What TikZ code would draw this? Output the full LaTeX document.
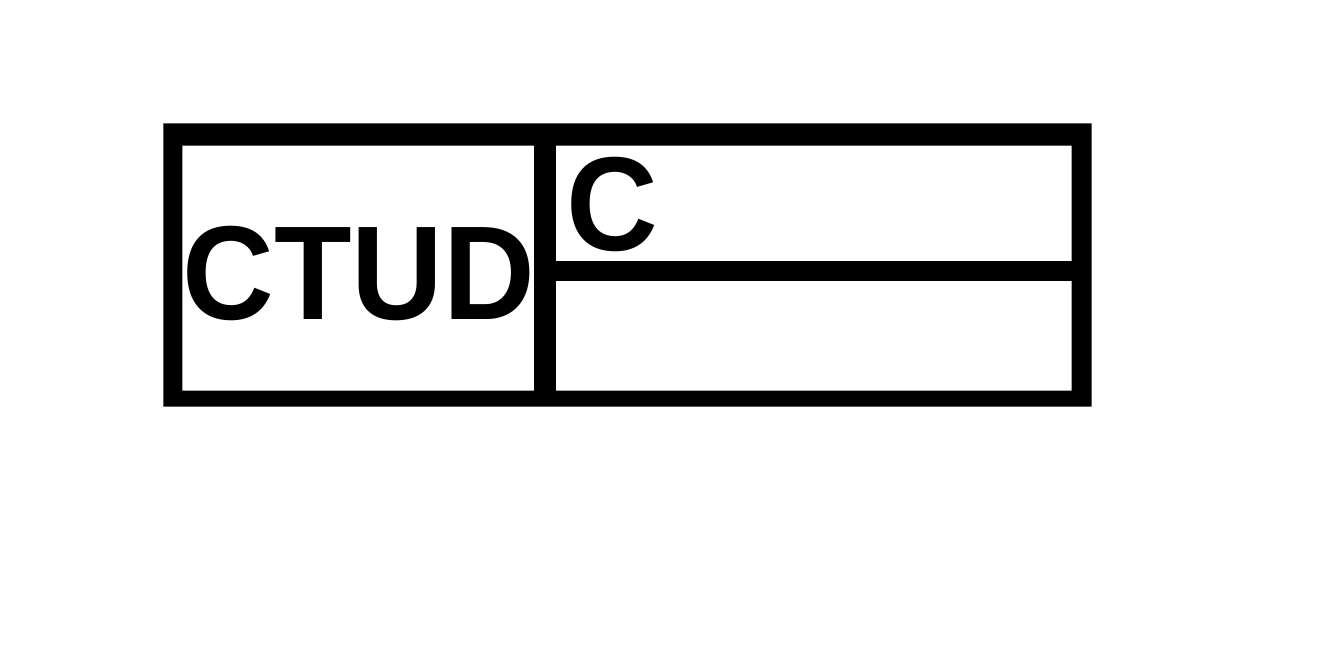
\documentclass[tikz,border=0pt]{standalone}
\usepackage{fontspec}
\setmainfont{Liberation Sans}
\tikzset{
  frame/.style={fill=black},
  label/.style={inner sep=0pt, anchor=base west, font=\bfseries\fontsize{73}{80}\selectfont}
}
\newcommand{\stretchtext}[1]{\scalebox{0.99}[1.042]{#1}}
\begin{document}
\begin{tikzpicture}[x=0.02cm,y=-0.02cm]
    \useasboundingbox (0,0) rectangle (1326,652);
    % outer frame
    \fill [frame, even odd rule] (163.3,123.3) rectangle (1091.7,406.7)
                                 (182.3,145.7) rectangle (1071.7,390.7);
    % dividers
    \fill [frame] (534,140) rectangle (555.7,395);
    \fill [frame] (550,260.7) rectangle (1077,280.7);
    \node [label] (ctud) at (182,319) {\stretchtext{CTUD}};
    \node [label] (c) at (566.5,250) {\stretchtext{C}};
  \end{tikzpicture}
\end{document}
